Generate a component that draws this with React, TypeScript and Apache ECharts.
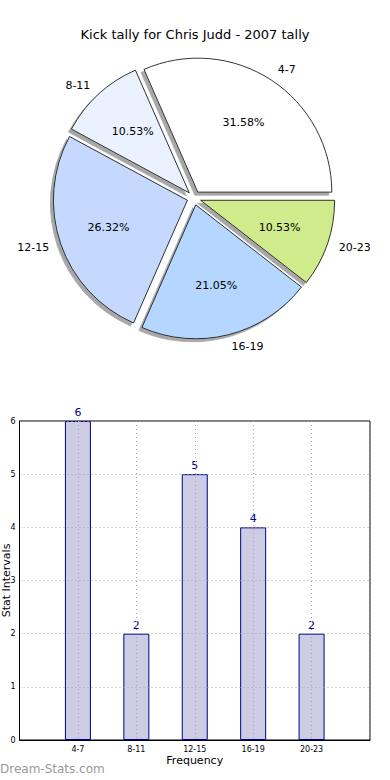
import React, { useEffect, useRef } from 'react';
import * as echarts from 'echarts';

const pieTitle = 'Kick tally for Chris Judd - 2007 tally';
const categories = ['4-7', '8-11', '12-15', '16-19', '20-23'];
const counts = [6, 2, 5, 4, 2];
const sliceColors = ['#ffffff', '#ebf2ff', '#c5d9ff', '#b4d6ff', '#cfeb8b'];
const xAxisName = 'Frequency';
const yAxisName = 'Stat Intervals';
const watermark = 'Dream-Stats.com';

const total = counts.reduce((a, b) => a + b, 0);
const FONT = 'DejaVu Sans';

export default function App() {
  const ref = useRef<HTMLDivElement>(null);
  useEffect(() => {
    if (!ref.current) return;
    const chart = echarts.init(ref.current, undefined, { renderer: 'svg' });
    const pieData = categories.map((c, i) => ({
      name: c,
      value: counts[i],
      selected: true,
      itemStyle: { color: sliceColors[i] },
    }));
    const pieLabelData = categories.map((c, i) => ({
      name: c,
      value: counts[i],
      selected: true,
      itemStyle: { color: 'rgba(0,0,0,0)', borderWidth: 0 },
    }));
    const gridLine = { show: true, lineStyle: { type: [1, 3], color: '#a8a8a8', width: 1 } };
    chart.setOption({
      animation: false,
      textStyle: { fontFamily: FONT },
      title: {
        text: pieTitle,
        left: 'center',
        top: 23,
        textStyle: { fontSize: 13, fontWeight: 'normal', color: '#000', fontFamily: FONT },
      },
      grid: {
        left: 19.5,
        right: 20,
        top: 421,
        bottom: 40,
        containLabel: false,
        outerBoundsMode: 'none',
        show: true,
        borderColor: '#000',
        borderWidth: 1,
        backgroundColor: 'transparent',
      },
      xAxis: {
        type: 'value',
        z: 3,
        min: -1,
        max: 5,
        interval: 1,
        axisLine: { show: true, onZero: false, lineStyle: { color: '#000' } },
        axisTick: { show: false },
        axisLabel: {
          formatter: (v: number) => categories[v] ?? '',
          fontSize: 8,
          color: '#000',
          margin: 5,
          fontFamily: FONT,
        },
        splitLine: gridLine,
        name: xAxisName,
        nameLocation: 'middle',
        nameGap: 15,
        nameMoveOverlap: false,
        nameTextStyle: { fontSize: 11, color: '#000', fontFamily: FONT },
      },
      yAxis: {
        type: 'value',
        z: 3,
        min: 0,
        max: 6,
        interval: 1,
        axisLine: { show: true, onZero: false, lineStyle: { color: '#000' } },
        axisTick: { show: false },
        axisLabel: { fontSize: 8, color: '#000', margin: 4, fontFamily: FONT },
        splitLine: gridLine,
        name: yAxisName,
        nameLocation: 'middle',
        nameGap: 8,
        nameRotate: 90,
        nameMoveOverlap: false,
        nameTextStyle: { fontSize: 11, color: '#000', fontFamily: FONT },
      },
      series: [
        {
          type: 'bar',
          data: counts.map((v, i) => [i, v]),
          barWidth: 26,
          itemStyle: { color: '#cccce3', borderColor: '#00008b', borderWidth: 1 },
          label: {
            show: true,
            position: 'top',
            color: '#00008b',
            fontSize: 11,
            distance: 3,
            fontFamily: FONT,
            formatter: (p: any) => String(p.value[1]),
          },
        },
        {
          type: 'pie',
          center: [194, 198],
          radius: 134,
          startAngle: 0,
          clockwise: false,
          selectedMode: 'multiple',
          selectedOffset: 7,
          avoidLabelOverlap: false,
          emphasis: { disabled: true },
          label: {
            show: true,
            position: 'outside',
            fontSize: 11,
            color: '#000',
            distanceToLabelLine: 0,
            fontFamily: FONT,
          },
          labelLine: { show: false, length: 12, length2: 0 },
          itemStyle: {
            borderColor: '#000',
            borderWidth: 0.8,
            shadowColor: 'rgba(120,120,120,0.65)',
            shadowOffsetX: -3,
            shadowOffsetY: 3,
            shadowBlur: 0,
          },
          data: pieData,
        },
        {
          type: 'pie',
          center: [194, 198],
          radius: [27, 134],
          startAngle: 0,
          clockwise: false,
          selectedMode: 'multiple',
          selectedOffset: 7,
          silent: true,
          avoidLabelOverlap: false,
          emphasis: { disabled: true },
          label: {
            show: true,
            position: 'inside',
            fontSize: 11,
            color: '#000',
            fontFamily: FONT,
            formatter: (p: any) => ((p.value / total) * 100).toFixed(2) + '%',
          },
          labelLine: { show: false },
          data: pieLabelData,
        },
      ],
      graphic: [
        {
          type: 'text',
          left: 0,
          top: 763,
          style: { text: watermark, fontSize: 12, fill: '#9a9a9a', fontFamily: FONT },
        },
      ],
    });
    return () => chart.dispose();
  }, []);
  return (
    <div
      ref={ref}
      style={{ position: 'absolute', left: 0, top: 0, width: 390, height: 780 }}
    />
  );
}
